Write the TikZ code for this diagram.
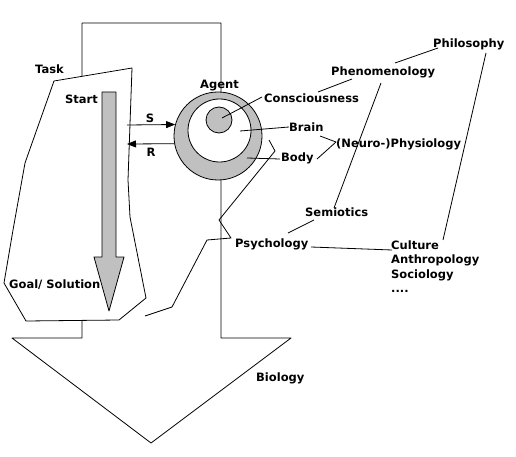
\documentclass[tikz,border=0pt]{standalone}
\usepackage{fontspec}
\setmainfont{DejaVu Sans}
\usetikzlibrary{arrows.meta}
\definecolor{silv}{RGB}{192,192,192}
\begin{document}
\begin{tikzpicture}[x=1pt,y=-1pt,
  lbl/.style={font=\bfseries\fontsize{11.5}{14.5}\selectfont, inner sep=0pt, anchor=base west},
  ln/.style={line width=0.8pt, line join=round},
  tip/.style={-{Triangle[length=9pt,width=7pt]}}]
\useasboundingbox (0,0) rectangle (516,457);
% big Biology arrow
\draw[ln, fill=white] (82,23) -- (221,23) -- (221,338) -- (291,338) -- (151,443) -- (12,338) -- (82,338) -- cycle;
% Task polygon
\draw[ln, fill=white] (54,81) -- (132,68) -- (128,180) -- (130,217) -- (146,298) -- (119,320) -- (26,321) -- (4,283) -- (13,230) -- (25,163) -- cycle;
% gray Start->Goal arrow
\draw[ln, fill=silv] (102,92) -- (116,92) -- (116,257) -- (124,257) -- (109,311) -- (94,257) -- (102,257) -- cycle;
% agent circles
\node[ln, draw, circle, fill=silv, minimum size=88pt, inner sep=0pt] (agent) at (218,136) {};
\node[ln, draw, circle, fill=white, minimum size=63pt, inner sep=0pt] (brainc) at (219.5,130.5) {};
\node[ln, draw, circle, fill=silv, minimum size=26pt, inner sep=0pt] (consc) at (219,120) {};
% labels
\node[lbl] (task) at (35,74) {Task};
\node[lbl] (start) at (65,103.5) {Start};
\node[lbl] (agentl) at (200,88.5) {Agent};
\node[lbl, anchor=base] (s) at (150,122.5) {S};
\node[lbl, anchor=base] (r) at (151,157) {R};
\node[lbl] (cons) at (264,102.5) {Consciousness};
\node[lbl] (brain) at (289,131.5) {Brain};
\node[lbl] (body) at (281,162) {Body};
\node[lbl] (neuro) at (336,147.3) {(Neuro-)Physiology};
\node[lbl] (phen) at (331,75.3) {Phenomenology};
\node[lbl] (phil) at (433,47.7) {Philosophy};
\node[lbl] (semi) at (305,216.7) {Semiotics};
\node[lbl] (psych) at (235,247) {Psychology};
\node[lbl, align=left, anchor=north west] (cult) at (391,240.5) {Culture\\Anthropology\\Sociology\\....};
\node[lbl] (goal) at (9,288) {Goal/ Solution};
\node[lbl] (bio) at (256,381) {Biology};
% coordinates for connector ends
\coordinate (sS) at (127,125);
\coordinate (rE) at (127,144);
\coordinate (c1) at (222,118);
\coordinate (c2) at (262,97);
\coordinate (b1) at (240,131);
\coordinate (b2) at (289,127);
\coordinate (d1) at (247,158);
\coordinate (d2) at (280,159);
\coordinate (n1) at (320,136);
\coordinate (n0) at (336,142);
\coordinate (n2) at (317,159);
\coordinate (p1) at (318,92);
\coordinate (p2) at (352,79);
\coordinate (q1) at (395,63);
\coordinate (q2) at (438,48);
\coordinate (m1) at (381,83);
\coordinate (m2) at (334,208);
\coordinate (t1) at (314,220);
\coordinate (t2) at (288,233);
\coordinate (u1) at (311,247);
\coordinate (u2) at (392,250);
\coordinate (v1) at (486,53);
\coordinate (v2) at (443,240);
\coordinate (z1) at (269,140);
\coordinate (z2) at (275,151);
\coordinate (z3) at (219,220);
\coordinate (z4) at (231,238);
\coordinate (z5) at (207,240);
\coordinate (z6) at (172,307);
\coordinate (z7) at (145,316);
% S and R arrows
\draw[ln, tip] (sS) -- (agent.165.5);
\draw[ln, tip] (agent.190.5) -- (rE);
% connectors
\draw[ln] (c1) -- (c2);
\draw[ln] (b1) -- (b2);
\draw[ln] (d1) -- (d2);
\draw[ln] (n1) -- (n0) -- (n2);
\draw[ln] (p1) -- (p2);
\draw[ln] (q1) -- (q2);
\draw[ln] (m1) -- (m2);
\draw[ln] (t1) -- (t2);
\draw[ln] (u1) -- (u2);
\draw[ln] (v1) -- (v2);
\draw[ln] (z1) -- (z2) -- (z3) -- (z4) -- (z5) -- (z6) -- (z7);
\end{tikzpicture}
\end{document}
